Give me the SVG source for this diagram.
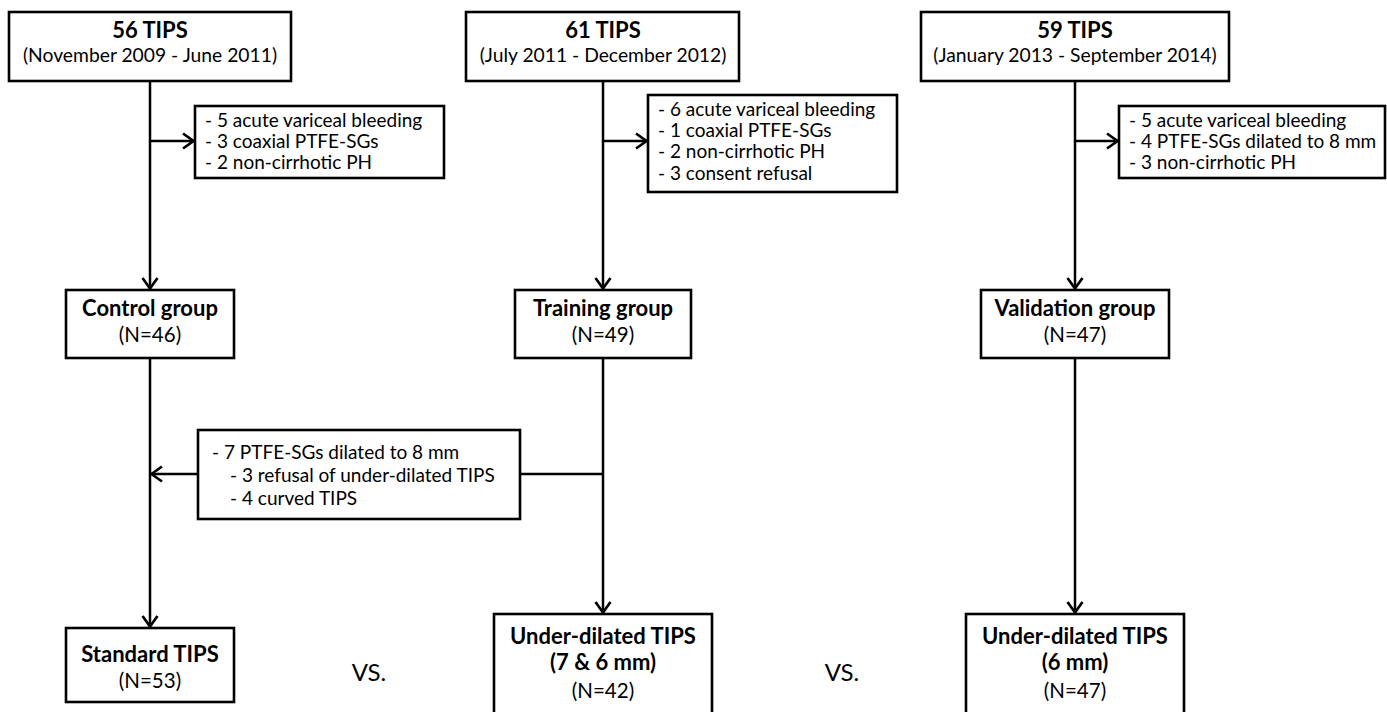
<svg xmlns="http://www.w3.org/2000/svg" width="1387" height="712" viewBox="0 0 1387 712">
<defs>
<style>
.box{fill:#fff;stroke:#000;stroke-width:2.6}
.ln{fill:none;stroke:#000;stroke-width:2.5}
.t{font-family:Lato,"Open Sans","Liberation Sans",sans-serif;font-size:19px;fill:#000}
.c{text-anchor:middle}
.b{font-weight:bold;font-size:22px}
.d{font-size:19.3px}
.n{font-size:20.5px}
.vs{font-family:Lato,"Liberation Sans",sans-serif;font-size:24px}
</style>
<marker id="ah" viewBox="0 0 14 18" refX="12.5" refY="9" markerWidth="14" markerHeight="18" markerUnits="userSpaceOnUse" orient="auto">
<path d="M1.5,1.5 L12,9 L1.5,16.5" fill="none" stroke="#000" stroke-width="2.7"/>
</marker>
</defs>
<rect width="1387" height="712" fill="#fff"/>
<g id="connectors">
<line class="ln" x1="150" y1="81" x2="150" y2="289" marker-end="url(#ah)"/>
<line class="ln" x1="150" y1="141" x2="194" y2="141" marker-end="url(#ah)"/>
<line class="ln" x1="603" y1="81" x2="603" y2="289" marker-end="url(#ah)"/>
<line class="ln" x1="603" y1="141" x2="647" y2="141" marker-end="url(#ah)"/>
<line class="ln" x1="1075" y1="81" x2="1075" y2="289" marker-end="url(#ah)"/>
<line class="ln" x1="1075" y1="141" x2="1118" y2="141" marker-end="url(#ah)"/>
<line class="ln" x1="150" y1="358" x2="150" y2="627" marker-end="url(#ah)"/>
<line class="ln" x1="603" y1="358" x2="603" y2="613" marker-end="url(#ah)"/>
<line class="ln" x1="1075" y1="358" x2="1075" y2="613" marker-end="url(#ah)"/>
<line class="ln" x1="603" y1="474" x2="520" y2="474"/>
<line class="ln" x1="198" y1="474" x2="151" y2="474" marker-end="url(#ah)"/>
</g>
<g id="n56">
<rect class="box" x="9" y="12" width="282" height="69"/>
<text class="t c b" x="150" y="38">56 TIPS</text>
<text class="t c d" x="150" y="62">(November 2009 - June 2011)</text>
</g>
<g id="n61">
<rect class="box" x="466" y="12" width="273" height="69"/>
<text class="t c b" x="603" y="38">61 TIPS</text>
<text class="t c d" x="603" y="62">(July 2011 - December 2012)</text>
</g>
<g id="n59">
<rect class="box" x="921" y="12" width="308" height="69"/>
<text class="t c b" x="1075" y="38">59 TIPS</text>
<text class="t c d" x="1075" y="62">(January 2013 - September 2014)</text>
</g>
<g id="ex1">
<rect class="box" x="195" y="106" width="249" height="72"/>
<text class="t" x="205" y="127">- 5 acute variceal bleeding</text>
<text class="t" x="205" y="148">- 3 coaxial PTFE-SGs</text>
<text class="t" x="205" y="169">- 2 non-cirrhotic PH</text>
</g>
<g id="ex2">
<rect class="box" x="648" y="95" width="249" height="97"/>
<text class="t" x="658" y="116">- 6 acute variceal bleeding</text>
<text class="t" x="658" y="137">- 1 coaxial PTFE-SGs</text>
<text class="t" x="658" y="158">- 2 non-cirrhotic PH</text>
<text class="t" x="658" y="180">- 3 consent refusal</text>
</g>
<g id="ex3">
<rect class="box" x="1119" y="106" width="266" height="72"/>
<text class="t" x="1129" y="127">- 5 acute variceal bleeding</text>
<text class="t" x="1129" y="148">- 4 PTFE-SGs dilated to 8 mm</text>
<text class="t" x="1129" y="169">- 3 non-cirrhotic PH</text>
</g>
<g id="control">
<rect class="box" x="66" y="290" width="168" height="68"/>
<text class="t c b" x="150" y="316">Control group</text>
<text class="t c n" x="150" y="342">(N=46)</text>
</g>
<g id="training">
<rect class="box" x="515" y="290" width="176" height="68"/>
<text class="t c b" x="603" y="316">Training group</text>
<text class="t c n" x="603" y="342">(N=49)</text>
</g>
<g id="validation">
<rect class="box" x="981" y="290" width="188" height="68"/>
<text class="t c b" x="1075" y="316">Validation group</text>
<text class="t c n" x="1075" y="342">(N=47)</text>
</g>
<g id="crossover">
<rect class="box" x="198" y="430" width="322" height="89"/>
<text class="t" x="212" y="459">- 7 PTFE-SGs dilated to 8 mm</text>
<text class="t" x="230" y="482">- 3 refusal of under-dilated TIPS</text>
<text class="t" x="230" y="505">- 4 curved TIPS</text>
</g>
<g id="standard">
<rect class="box" x="66" y="628" width="168" height="74"/>
<text class="t c b" x="150" y="662">Standard TIPS</text>
<text class="t c n" x="150" y="688">(N=53)</text>
</g>
<g id="under76">
<rect class="box" x="494" y="614" width="218" height="110"/>
<text class="t c b" x="603" y="644">Under-dilated TIPS</text>
<text class="t c b" x="603" y="670">(7 &amp; 6 mm)</text>
<text class="t c n" x="603" y="698">(N=42)</text>
</g>
<g id="under6">
<rect class="box" x="966" y="614" width="218" height="110"/>
<text class="t c b" x="1075" y="644">Under-dilated TIPS</text>
<text class="t c b" x="1075" y="670">(6 mm)</text>
<text class="t c n" x="1075" y="698">(N=47)</text>
</g>
<g id="vs">
<text class="vs c" x="369" y="681">VS.</text>
<text class="vs c" x="842" y="681">VS.</text>
</g>
</svg>
